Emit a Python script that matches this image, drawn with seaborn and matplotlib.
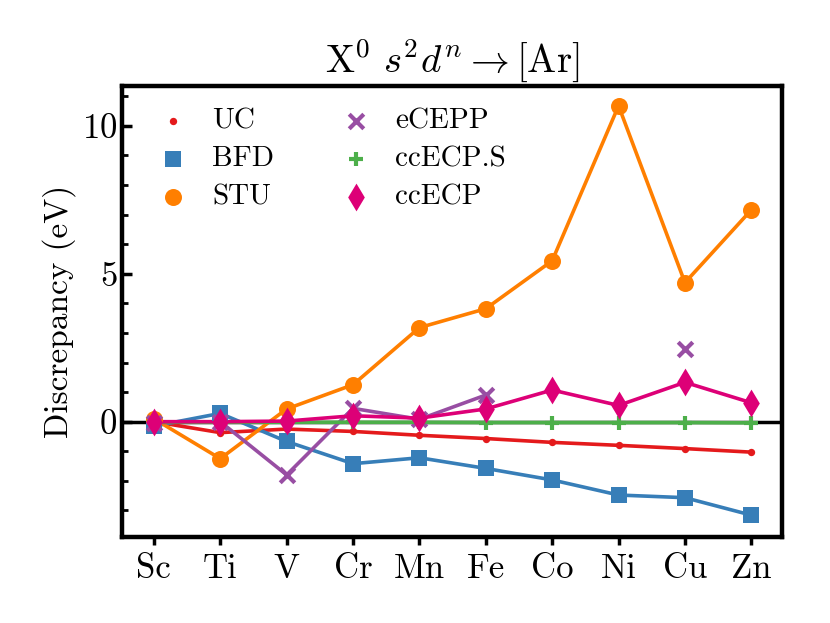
import numpy as np
import pandas as pd
import matplotlib
matplotlib.use("Agg")
import matplotlib.pyplot as plt
import seaborn as sns

elements = ["Sc", "Ti", "V", "Cr", "Mn", "Fe", "Co", "Ni", "Cu", "Zn"]

uc = [0.0, -0.37, -0.25, -0.33, -0.46, -0.57, -0.70, -0.80, -0.91, -1.03]
bfd = [-0.15, 0.28, -0.67, -1.42, -1.22, -1.58, -1.97, -2.48, -2.57, -3.16]
stu = [0.10, -1.25, 0.43, 1.25, 3.18, 3.82, 5.44, 10.68, 4.70, 7.16]
ecepp = [-0.03, 0.0, -1.80, 0.45, 0.08, 0.90, np.nan, np.nan, 2.45, np.nan]
ccecp_s = [-0.02, -0.02, -0.02, -0.02, -0.02, -0.03, -0.03, -0.03, -0.03, -0.04]
ccecp = [0.0, 0.0, 0.02, 0.20, 0.12, 0.43, 1.07, 0.55, 1.33, 0.64]

series = [
    ("UC", uc, "#e41a1c", "o", 28),
    ("BFD", bfd, "#377eb8", "s", 130),
    ("STU", stu, "#ff7f00", "o", 150),
    ("eCEPP", ecepp, "#984ea3", "x", 110),
    ("ccECP.S", ccecp_s, "#4daf4a", "+", 110),
    ("ccECP", ccecp, "#dd0077", "d", 200),
]

plt.rcParams["font.family"] = "serif"
plt.rcParams["font.serif"] = ["cmr10"]
plt.rcParams["mathtext.fontset"] = "cm"
plt.rcParams["axes.formatter.use_mathtext"] = True

fig = plt.figure(figsize=(8.3, 6.23), dpi=100)
ax = fig.add_axes([0.147, 0.138, 0.795, 0.724])

ax.axhline(0, color="black", lw=2.5, zorder=1)

xpos = np.arange(len(elements))
for name, vals, color, marker, size in series:
    df = pd.DataFrame({"x": xpos, "y": vals})
    # split into runs so gaps in the data are not bridged
    df["seg"] = df["y"].isna().cumsum()
    for _, run in df.dropna().groupby("seg"):
        if len(run) > 1:
            sns.lineplot(data=run, x="x", y="y", color=color, lw=2.6,
                         ax=ax, legend=False, zorder=2)
    lw = 3 if marker in ("x", "+") else 0
    sns.scatterplot(data=df.dropna(), x="x", y="y", color=color, marker=marker,
                    s=size, linewidth=lw, edgecolor=color if lw == 0 else None,
                    label=name, ax=ax, zorder=3)

ax.set_xlim(-0.48, 9.46)
ax.set_ylim(-3.9, 11.35)
ax.set_xticks(xpos)
ax.set_xticklabels(elements)
ax.set_yticks([0, 5, 10])
ax.set_yticks(np.arange(-3, 12, 1), minor=True)
ax.tick_params(axis="x", direction="out", length=6, width=2.5, labelsize=25, pad=6)
ax.tick_params(axis="y", which="major", direction="in", length=7, width=2.5, labelsize=25)
ax.tick_params(axis="y", which="minor", direction="in", length=4, width=2)
for sp in ax.spines.values():
    sp.set_linewidth(3.2)

ax.set_xlabel("")
ax.set_ylabel("Discrepancy (eV)", fontsize=24)
ax.set_title(r"$\mathrm{X}^0\ s^2d^n \rightarrow [\mathrm{Ar}]$", fontsize=28, pad=10)

ax.legend(ncol=2, frameon=False, loc="upper left", fontsize=21,
          bbox_to_anchor=(0.0, 1.0), columnspacing=1.8, handletextpad=0.35,
          borderaxespad=0.35, labelspacing=0.4)

fig.savefig("out.png", dpi=100)
